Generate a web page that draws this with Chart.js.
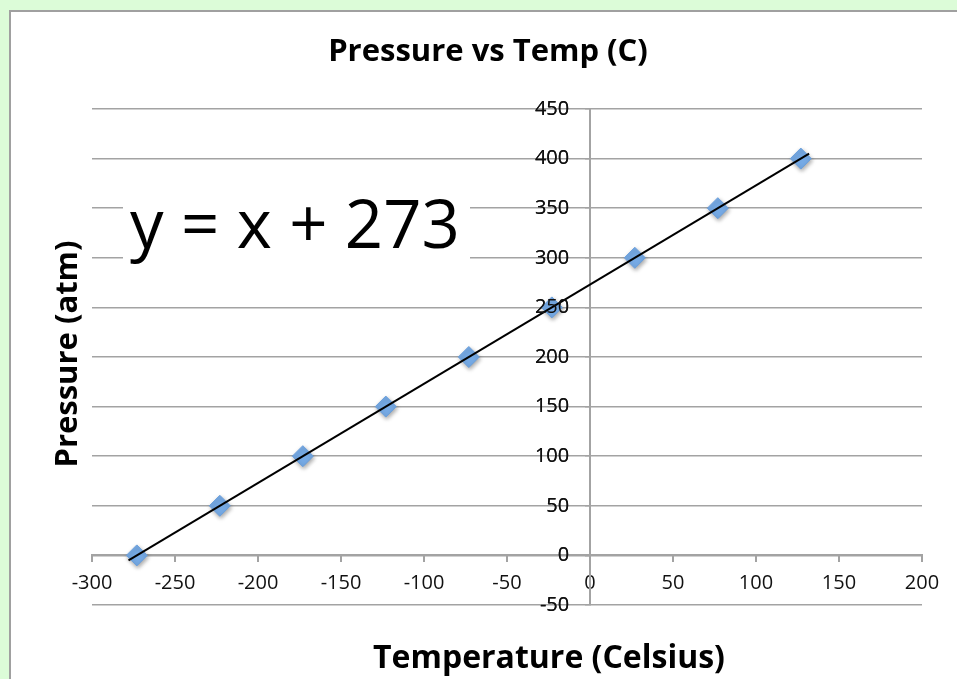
<!DOCTYPE html>
<html>
<head>
<meta charset="utf-8">
<script src="https://cdn.jsdelivr.net/npm/chart.js@4.4.1/dist/chart.umd.min.js"></script>
<style>
  html, body { margin: 0; padding: 0; }
  body { width: 957px; height: 679px; background: #dcfcd8; overflow: hidden; position: relative; }
  #frame { position: absolute; left: 9px; top: 10px; width: 1000px; height: 1000px; background: #fff; border: 2px solid #a0a0a0; }
  #wrap { position: absolute; left: 0; top: 0; width: 957px; height: 679px; }
</style>
</head>
<body>
<div id="frame"></div>
<div id="wrap"><canvas id="pressureChart"></canvas></div>
<script>
// measured points
const tempC = [-273, -223, -173, -123, -73, -23, 27, 77, 127];
const pressureAtm = [0, 50, 100, 150, 200, 250, 300, 350, 400];
// linear trendline end points
const trendX = [-278, 132];
const trendY = [-5, 405];
const xRange = [-300, 200];
const yRange = [-50, 450];

const gridGray = '#a3a3a3';
const font = '"Open Sans", "Liberation Sans", sans-serif';

// equation label in a white box
const equationBox = {
    id: 'equationBox',
    beforeDatasetsDraw(chart) {
        const ctx = chart.ctx;
        ctx.save();
        ctx.fillStyle = '#ffffff';
        ctx.fillRect(123, 182, 347, 88);
        ctx.fillStyle = '#000000';
        ctx.font = '67px ' + font;
        ctx.textBaseline = 'alphabetic';
        ctx.textAlign = 'left';
        ctx.fillText('y = x + 273', 130, 248);
        ctx.restore();
    }
};

// titles are placed by hand: the axes cross at 0 and the title is not centred on the plot
const chartTitles = {
    id: 'chartTitles',
    afterDraw(chart) {
        const ctx = chart.ctx;
        ctx.save();
        ctx.fillStyle = '#000000';
        ctx.textAlign = 'center';
        ctx.textBaseline = 'middle';
        ctx.font = 'bold 31px ' + font;
        ctx.fillText('Pressure vs Temp (C)', 488, 52);
        ctx.font = 'bold 32px ' + font;
        ctx.fillText('Temperature (Celsius)', 549, 659);
        ctx.font = 'bold 31px ' + font;
        ctx.translate(68, 354);
        ctx.rotate(-Math.PI / 2);
        ctx.fillText('Pressure (atm)', 0, 0);
        ctx.restore();
    }
};

// y labels are painted over the markers in the original
const labelsOnTop = {
    id: 'labelsOnTop',
    afterDatasetsDraw(chart) {
        chart.scales.y.drawLabels(chart.chartArea);
    }
};

const markerShadow = {
    id: 'markerShadow',
    beforeDatasetDraw(chart, args) {
        if (args.index !== 1) return;
        const ctx = chart.ctx;
        ctx.save();
        ctx.shadowColor = 'rgba(0, 0, 0, 0.35)';
        ctx.shadowBlur = 4;
        ctx.shadowOffsetX = 1;
        ctx.shadowOffsetY = 2;
    },
    afterDatasetDraw(chart, args) {
        if (args.index !== 1) return;
        chart.ctx.restore();
    }
};

document.addEventListener('DOMContentLoaded', () => {
    const ctx = document.getElementById('pressureChart').getContext('2d');
    new Chart(ctx, {
        type: 'scatter',
        data: {
            datasets: [{
                type: 'line',
                label: 'Trend',
                data: trendX.map((x, i) => ({ x: x, y: trendY[i] })),
                borderColor: '#000000',
                borderWidth: 2,
                pointRadius: 0,
                fill: false,
                order: 0
            }, {
                label: 'Pressure',
                data: tempC.map((x, i) => ({ x: x, y: pressureAtm[i] })),
                pointStyle: 'rectRot',
                pointRadius: 10.5,
                backgroundColor: '#76aae5',
                borderColor: '#6a9fdc',
                borderWidth: 1,
                order: 1
            }]
        },
        options: {
            responsive: true,
            maintainAspectRatio: false,
            animation: false,
            layout: {
                padding: { left: 92, right: 35, top: 109, bottom: 74 }
            },
            scales: {
                x: {
                    type: 'linear',
                    min: xRange[0],
                    max: xRange[1],
                    position: { y: 0 },
                    afterFit(scale) { scale.height = 0; },
                    grid: {
                        drawOnChartArea: false,
                        drawTicks: true,
                        tickLength: 6,
                        color: gridGray,
                        lineWidth: 2
                    },
                    border: { color: gridGray, width: 2 },
                    ticks: {
                        stepSize: 50,
                        padding: 10,
                        color: '#111111',
                        font: { family: font, size: 20 }
                    }
                },
                y: {
                    type: 'linear',
                    min: yRange[0],
                    max: yRange[1],
                    position: { x: 0 },
                    afterFit(scale) { scale.width = 0; },
                    grid: {
                        drawOnChartArea: true,
                        drawTicks: true,
                        tickLength: 4,
                        color: gridGray,
                        lineWidth: 1.5
                    },
                    border: { color: gridGray, width: 2 },
                    ticks: {
                        stepSize: 50,
                        padding: 8,
                        color: '#111111',
                        font: { family: font, size: 20 },
                        // labels sit left of the axis line; trailing spaces push them off it
                        callback: (v) => v + '    '
                    }
                }
            },
            plugins: {
                legend: { display: false },
                tooltip: { enabled: false },
                title: { display: false }
            }
        },
        plugins: [equationBox, chartTitles, labelsOnTop, markerShadow]
    });
});
</script>
</body>
</html>
